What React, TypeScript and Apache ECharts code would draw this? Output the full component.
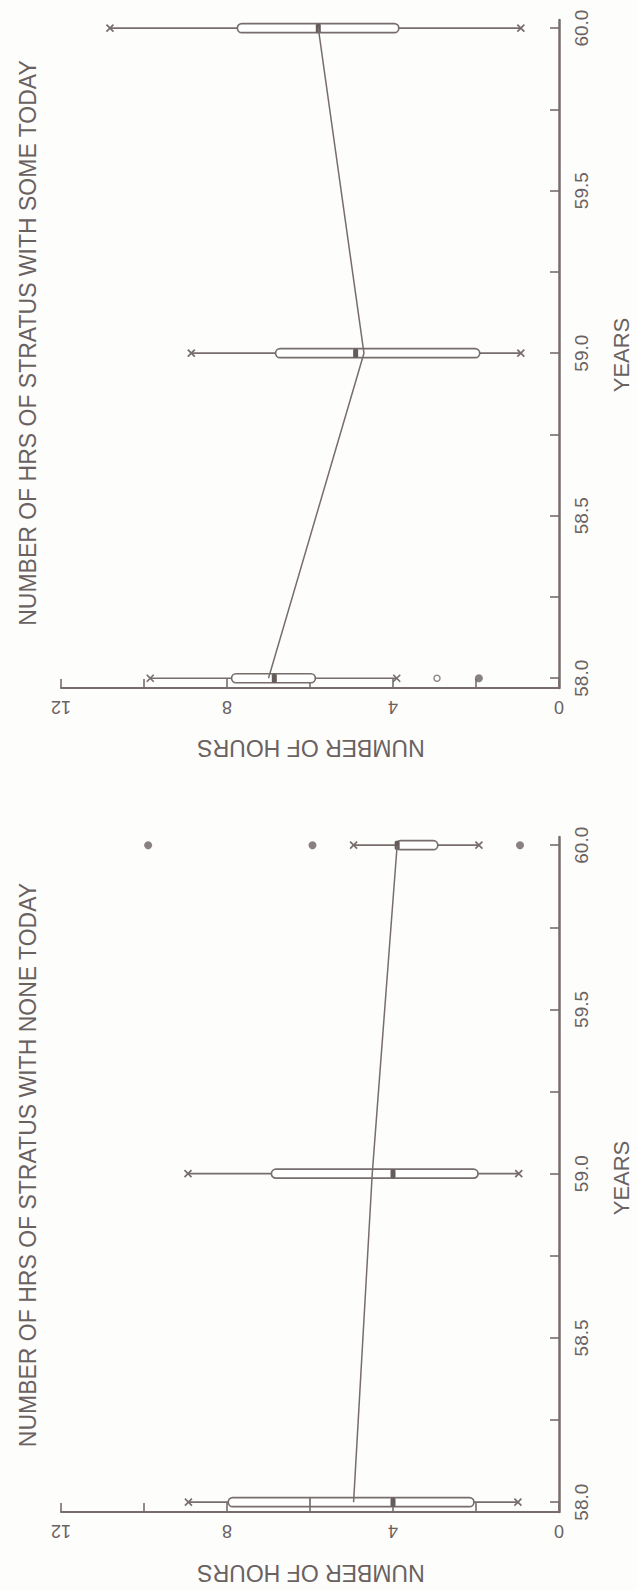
import React, { useEffect, useRef } from "react";
import * as echarts from "echarts";

// ---- data (years on the vertical axis, hours on the horizontal axis) ----
const years = [58, 59, 60];
const yearLabels = [58, 58.5, 59, 59.5, 60];
const yearTicks = [58, 58.25, 58.5, 58.75, 59, 59.25, 59.5, 59.75, 60];
const hourLabels = [0, 4, 8, 12];
const hourTicks = [0, 2, 4, 6, 8, 10, 12];

// Panel 1: NUMBER OF HRS OF STRATUS WITH SOME TODAY
const someLow = [3.91, 0.92, 0.92];
const someQ1 = [5.87, 1.91, 3.86];
const someMedian = [6.86, 4.9, 5.8];
const someQ3 = [7.89, 6.83, 7.75];
const someHigh = [9.85, 8.86, 10.82];
const someDivider = [-1, -1, -1];
const someMean = [7.0, 4.7, 5.8];
const someOutliersFilled = [[1.93, 58]];
const someOutliersOpen = [[2.94, 58]];

// Panel 2: NUMBER OF HRS OF STRATUS WITH NONE TODAY
const noneLow = [0.99, 0.97, 1.93];
const noneQ1 = [2.05, 1.95, 2.92];
const noneMedian = [4.0, 4.0, 3.9];
const noneQ3 = [7.97, 6.93, 3.93];
const noneHigh = [8.93, 8.94, 4.95];
const noneDivider = [6.0, -1, -1];
const noneMean = [4.95, 4.5, 3.9];
const noneOutliersFilled = [[9.9, 60], [5.94, 60], [0.94, 60]];
const noneOutliersOpen: number[][] = [];

const titles = [
  "NUMBER OF HRS OF STRATUS WITH SOME TODAY",
  "NUMBER OF HRS OF STRATUS WITH NONE TODAY",
];

const GRAY = "#776d6d";
const TEXT = "#6a6161";
const FONT = '"Liberation Sans", Arial, sans-serif';

function boxRows(low: number[], q1: number[], med: number[], q3: number[], high: number[], div: number[]) {
  return years.map((y, i) => [y, low[i], q1[i], med[i], q3[i], high[i], div[i]]);
}

const renderBox = (params: any, api: any) => {
  const yr = api.value(0);
  const px = (v: number) => api.coord([v, yr]);
  const [xLow, yc] = px(api.value(1));
  const [xQ1] = px(api.value(2));
  const [xMed] = px(api.value(3));
  const [xQ3] = px(api.value(4));
  const [xHigh] = px(api.value(5));
  const divV = api.value(6);
  const h = 9;
  const ls = { stroke: GRAY, lineWidth: 1.7 };
  const cross = (x: number) => [
    { type: "line", shape: { x1: x - 3.5, y1: yc - 3.5, x2: x + 3.5, y2: yc + 3.5 }, style: ls },
    { type: "line", shape: { x1: x - 3.5, y1: yc + 3.5, x2: x + 3.5, y2: yc - 3.5 }, style: ls },
  ];
  const children: any[] = [
    { type: "line", shape: { x1: xLow, y1: yc, x2: xQ1, y2: yc }, style: ls },
    { type: "line", shape: { x1: xQ3, y1: yc, x2: xHigh, y2: yc }, style: ls },
    ...cross(xLow),
    ...cross(xHigh),
    {
      type: "rect",
      shape: { x: Math.min(xQ1, xQ3), y: yc - h / 2, width: Math.abs(xQ3 - xQ1), height: h, r: h / 2 },
      style: { fill: "#ffffff", stroke: GRAY, lineWidth: 1.7 },
    },
    {
      type: "rect",
      shape: { x: xMed - 2.5, y: yc - h / 2, width: 5, height: h, r: 1.5 },
      style: { fill: "#665c5c" },
    },
  ];
  if (divV >= 0) {
    const [xd] = px(divV);
    children.push({ type: "line", shape: { x1: xd, y1: yc - h / 2, x2: xd, y2: yc + h / 2 }, style: ls });
  }
  return { type: "group", children };
};

const panels = [
  {
    title: titles[0],
    top: 20,
    height: 668,
    boxes: boxRows(someLow, someQ1, someMedian, someQ3, someHigh, someDivider),
    mean: someMean,
    filled: someOutliersFilled,
    open: someOutliersOpen,
    titleY: 343,
    hoursY: 748,
    yearsY: 355,
  },
  {
    title: titles[1],
    top: 837,
    height: 675,
    boxes: boxRows(noneLow, noneQ1, noneMedian, noneQ3, noneHigh, noneDivider),
    mean: noneMean,
    filled: noneOutliersFilled,
    open: noneOutliersOpen,
    titleY: 1165,
    hoursY: 1573,
    yearsY: 1178,
  },
];

export default function App() {
  const ref = useRef<HTMLDivElement>(null);
  useEffect(() => {
    if (!ref.current) return;
    const chart = echarts.init(ref.current, undefined, { renderer: "svg" });
    const grid = panels.map((p) => ({ left: 61, width: 498, top: p.top, height: p.height }));
    const xAxis = panels.map((p, i) => ({
      type: "value",
      gridIndex: i,
      min: 0,
      max: 12,
      inverse: true,
      position: "bottom",
      axisLine: { show: true, onZero: false, lineStyle: { color: GRAY, width: 2 } },
      axisTick: { show: true, inside: true, length: 9, customValues: hourTicks, lineStyle: { color: GRAY, width: 1.6 } },
      axisLabel: {
        show: true,
        customValues: hourLabels,
        rotate: 180,
        margin: 10,
        color: TEXT,
        fontSize: 18,
        fontFamily: FONT,
      },
      splitLine: { show: false },
    }));
    const yAxis = panels.map((p, i) => ({
      type: "value",
      gridIndex: i,
      min: 57.97,
      max: 60.025,
      position: "right",
      axisLine: { show: true, onZero: false, lineStyle: { color: GRAY, width: 2.5 } },
      axisTick: { show: true, inside: true, length: 9, customValues: yearTicks, lineStyle: { color: GRAY, width: 1.6 } },
      axisLabel: {
        show: true,
        customValues: yearLabels,
        formatter: (v: number) => v.toFixed(1),
        rotate: 90,
        margin: 13,
        color: TEXT,
        fontSize: 19,
        fontFamily: FONT,
      },
      splitLine: { show: false },
    }));
    const series: any[] = [];
    panels.forEach((p, i) => {
      series.push({
        type: "custom",
        xAxisIndex: i,
        yAxisIndex: i,
        renderItem: renderBox,
        encode: { x: [1, 2, 3, 4, 5], y: 0 },
        data: p.boxes,
        z: 2,
        silent: true,
      });
      series.push({
        type: "line",
        xAxisIndex: i,
        yAxisIndex: i,
        data: years.map((y, k) => [p.mean[k], y]),
        showSymbol: false,
        lineStyle: { color: GRAY, width: 1.5 },
        z: 3,
        silent: true,
      });
      series.push({
        type: "scatter",
        xAxisIndex: i,
        yAxisIndex: i,
        data: p.filled,
        symbol: "circle",
        symbolSize: 8,
        itemStyle: { color: "#6b6161" },
        z: 4,
        silent: true,
      });
      series.push({
        type: "scatter",
        xAxisIndex: i,
        yAxisIndex: i,
        data: p.open,
        symbol: "circle",
        symbolSize: 6,
        itemStyle: { color: "#ffffff", borderColor: GRAY, borderWidth: 1.5 },
        z: 4,
        silent: true,
      });
    });
    const graphic: any[] = [];
    panels.forEach((p) => {
      graphic.push({
        type: "text",
        x: 28,
        y: p.titleY,
        rotation: Math.PI / 2,
        style: { text: p.title, fill: TEXT, fontSize: 23, fontFamily: FONT, align: "center", verticalAlign: "middle" },
      });
      graphic.push({
        type: "text",
        x: 311,
        y: p.hoursY,
        rotation: Math.PI,
        style: { text: "NUMBER OF HOURS", fill: TEXT, fontSize: 23, fontFamily: FONT, align: "center", verticalAlign: "middle" },
      });
      graphic.push({
        type: "text",
        x: 621,
        y: p.yearsY,
        rotation: Math.PI / 2,
        style: { text: "YEARS", fill: TEXT, fontSize: 22, fontFamily: FONT, align: "center", verticalAlign: "middle" },
      });
    });
    chart.setOption({
      animation: false,
      backgroundColor: "#fdfdfc",
      grid,
      xAxis,
      yAxis,
      series,
      graphic,
    });
    return () => chart.dispose();
  }, []);
  return (
    <div
      ref={ref}
      style={{ position: "absolute", left: 0, top: 0, width: 637, height: 1590 }}
    />
  );
}
